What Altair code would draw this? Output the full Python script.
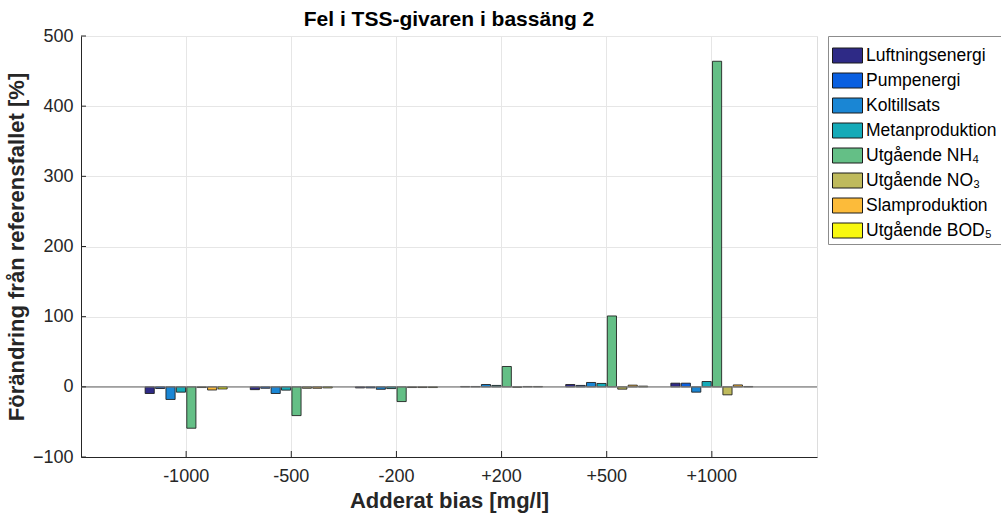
import altair as alt
import pandas as pd

categories = ["-1000", "-500", "-200", "+200", "+500", "+1000"]
series = ["Luftningsenergi", "Pumpenergi", "Koltillsats", "Metanproduktion",
          "Utgående NH₄", "Utgående NO₃", "Slamproduktion", "Utgående BOD₅"]
colors = ["#2e2a86", "#0a5fe0", "#1a86d4", "#14aab8",
          "#64bf86", "#bfba5c", "#fcbb3a", "#f8f80f"]

luftning = [-9.5, -4, -1.5, 0.5, 3.3, 5.2]
pump = [-2.4, -2, -1.5, 0.5, 2, 5.2]
kol = [-18, -9.5, -3.5, 3.3, 6.2, -7.6]
metan = [-7.6, -4.7, -2.5, 2, 4.8, 7.6]
nh4 = [-59, -41, -21, 29, 101, 464]
no3 = [-1, -2, -1, -0.5, -3.3, -11.4]
slam = [-4.5, -2, -1, 0.5, 2.4, 2.7]
bod = [-3, -1.5, -1, 0.5, 1, 0.5]

yticks = [-100, 0, 100, 200, 300, 400, 500]

values = [luftning, pump, kol, metan, nh4, no3, slam, bod]
rows = []
for s, vals in zip(series, values):
    for c, v in zip(categories, vals):
        rows.append({"cat": c, "series": s, "value": v})
df = pd.DataFrame(rows)

FONT = "Liberation Sans"
W, H = 736, 421

xscale = alt.Scale(domain=categories, paddingInner=0.22, paddingOuter=0.61)
yscale = alt.Scale(domain=[-100, 500], nice=False, zero=False)

bars = alt.Chart(df).mark_bar(stroke="#1a1a1a", strokeWidth=1, strokeOpacity=0.85).encode(
    x=alt.X("cat:N", scale=xscale, sort=categories,
            axis=alt.Axis(title="Adderat bias [mg/l]", labelAngle=0, grid=True,
                          gridColor="#e6e6e6", domainColor="#262626", tickColor="#262626",
                          tickSize=0, labelPadding=10, labelFontSize=18, labelColor="#262626",
                          titleFontSize=22, titleFontWeight="bold", titleColor="#262626",
                          titlePadding=5, labelFont=FONT, titleFont=FONT)),
    xOffset=alt.XOffset("series:N", sort=series, scale=alt.Scale(domain=series, paddingInner=0.12)),
    y=alt.Y("value:Q", scale=yscale,
            axis=alt.Axis(title="Förändring från referensfallet [%]", values=yticks,
                          grid=True, gridColor="#e6e6e6", domainColor="#262626",
                          tickSize=0, labelPadding=8, labelFontSize=18, labelColor="#262626",
                          titleFontSize=22, titleFontWeight="bold", titleColor="#262626",
                          titlePadding=4, labelFont=FONT, titleFont=FONT)),
    color=alt.Color("series:N", sort=series,
                    scale=alt.Scale(domain=series, range=colors),
                    legend=alt.Legend(title=None, orient="none", legendX=747, legendY=0,
                                      symbolType="M-1,-0.5H1V0.5H-1Z", symbolSize=900,
                                      symbolStrokeColor="#1a1a1a", symbolStrokeWidth=1,
                                      symbolOpacity=1, labelFontSize=17.5, labelFont=FONT,
                                      labelColor="#000000", rowPadding=-7.5, labelOffset=3,
                                      strokeColor="#8c8c8c", fillColor="white", padding=4,
                                      labelLimit=220)),
)

zero = alt.Chart(pd.DataFrame({"z": [0]})).mark_rule(color="#7f7f7f", strokeWidth=1.2).encode(
    y=alt.Y("z:Q", scale=yscale)
)

ytick_df = pd.DataFrame({"t": yticks})
yt = alt.Chart(ytick_df).mark_rule(color="#262626").encode(
    y=alt.Y("t:Q", scale=yscale), x=alt.value(0), x2=alt.value(5)
)
xt = alt.Chart(pd.DataFrame({"cat": categories})).mark_rule(color="#262626").encode(
    x=alt.X("cat:N", scale=xscale, sort=categories, bandPosition=0.5),
    y=alt.value(H), y2=alt.value(H - 6)
)

chart = alt.layer(bars, zero, yt, xt).properties(
    width=W, height=H,
    title=alt.TitleParams("Fel i TSS-givaren i bassäng 2", font=FONT, fontSize=21,
                          fontWeight="bold", color="#000000", offset=4, dy=7),
    padding={"left": 81, "top": 36, "right": 184, "bottom": 61},
    autosize="none",
).configure_view(stroke=None).configure(background="white")

chart.save("out.html", embed_options={"renderer": "svg", "actions": False})
